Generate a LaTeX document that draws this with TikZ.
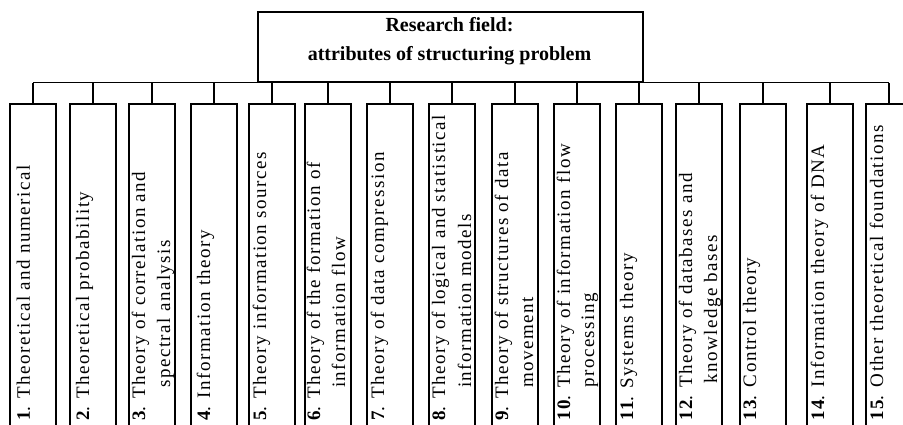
\documentclass[tikz,border=0pt]{standalone}
\usepackage{fontspec}
\setmainfont{Liberation Serif}
\newfontfamily\boxfont[LetterSpace=8]{Liberation Serif}
\begin{document}
\begin{tikzpicture}[x=1pt,y=-1pt,
  frame/.style={draw, line width=1.6pt, inner sep=0pt},
  fieldbox/.style={frame, anchor=north west, minimum width=46pt, minimum height=340pt},
  lbl/.style={rotate=90, anchor=base west, inner sep=0pt, font=\boxfont\fontsize{19}{23}\selectfont},
  ttl/.style={anchor=base, inner sep=0pt, font=\fontsize{20}{24}\selectfont\bfseries},
  link/.style={line width=1.6pt}]
\useasboundingbox (0,0) rectangle (903,424);
\clip (0,0) rectangle (903,424);
% top box
\node[frame, anchor=north west, minimum width=385pt, minimum height=70pt] (top) at (257,11) {};
\node[ttl] (t1) at (449.5,31) {Research field:};
\node[ttl] (t2) at (449.5,60) {attributes of structuring problem};
% field boxes
\node[fieldbox] (b1) at (9,103) {};
\node[fieldbox] (b2) at (69,103) {};
\node[fieldbox] (b3) at (128,103) {};
\node[fieldbox] (b4) at (190,103) {};
\node[fieldbox] (b5) at (248,103) {};
\node[fieldbox] (b6) at (304,103) {};
\node[fieldbox] (b7) at (366,103) {};
\node[fieldbox] (b8) at (428,103) {};
\node[fieldbox] (b9) at (491,103) {};
\node[fieldbox] (b10) at (553,103) {};
\node[fieldbox] (b11) at (615,103) {};
\node[fieldbox] (b12) at (675,103) {};
\node[fieldbox] (b13) at (739,103) {};
\node[fieldbox] (b14) at (806,103) {};
\node[fieldbox] (b15) at (865,103) {};
% connectors
\draw[link] (b1.north |- top.south) -- (b15.north |- top.south);
\foreach \i in {1,...,15} {\draw[link] (b\i.north) -- (b\i.north |- top.south);}
% labels
\node[lbl] (l1) at (30,421) {\textbf{1}. Theoretical and numerical};
\node[lbl] (l2) at (89,421) {\textbf{2}. Theoretical probability};
\node[lbl] (l3a) at (145,421) {\textbf{3}. Theory of correlation and};
\node[lbl] (l3b) at (170,388) {spectral analysis};
\node[lbl] (l4) at (210,421) {\textbf{4}. Information theory};
\node[lbl] (l5) at (266,421) {\textbf{5}. Theory information sources};
\node[lbl] (l6a) at (320,421) {\textbf{6}. Theory of the formation of};
\node[lbl] (l6b) at (345,388) {information flow};
\node[lbl] (l7) at (384,421) {\textbf{7}. Theory of data compression};
\node[lbl] (l8a) at (445,421) {\textbf{8}. Theory of logical and statistical};
\node[lbl] (l8b) at (471,388) {information models};
\node[lbl] (l9a) at (508,421) {\textbf{9}. Theory of structures of data};
\node[lbl] (l9b) at (533,388) {movement};
\node[lbl] (l10a) at (570,421) {\textbf{10}. Theory of information flow};
\node[lbl] (l10b) at (594,388) {processing};
\node[lbl] (l11) at (633,421) {\textbf{11}. Systems theory};
\node[lbl] (l12a) at (692,421) {\textbf{12}. Theory of databases and};
\node[lbl] (l12b) at (717,384) {knowledge bases};
\node[lbl] (l13) at (756,421) {\textbf{13}. Control theory};
\node[lbl] (l14) at (824,421) {\textbf{14}. Information theory of DNA};
\node[lbl] (l15) at (883,421) {\textbf{15}. Other theoretical foundations};
\end{tikzpicture}
\end{document}
